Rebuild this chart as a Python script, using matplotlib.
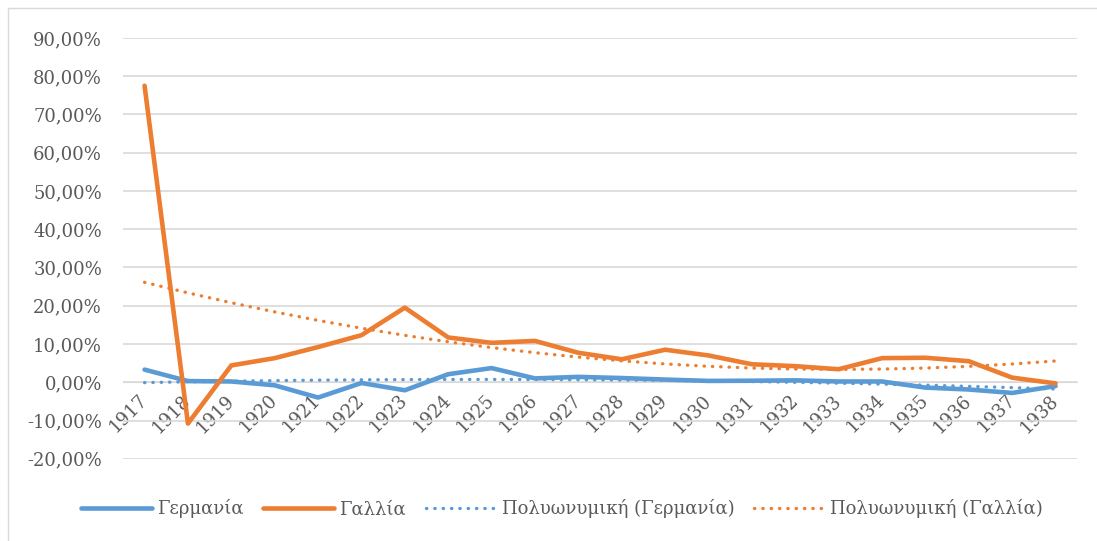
import numpy as np
import matplotlib
matplotlib.use('Agg')
import matplotlib.pyplot as plt
from matplotlib.ticker import FuncFormatter

years = list(range(1917, 1939))
germania = [3.3, 0.3, 0.2, -0.8, -4.0, -0.2, -2.1, 2.1, 3.7, 1.0, 1.4,
            1.1, 0.7, 0.35, 0.4, 0.5, 0.2, 0.2, -1.4, -1.9, -2.8, -1.0]
gallia = [77.5, -10.8, 4.4, 6.3, 9.2, 12.3, 19.5, 11.7, 10.3, 10.8, 7.7,
          6.0, 8.5, 7.0, 4.7, 4.2, 3.4, 6.3, 6.4, 5.5, 1.2, -0.3]

blue = '#5B9BD5'
orange = '#ED7D31'
grey = '#595959'

plt.rcParams['font.family'] = ['DejaVu Serif']

x = np.arange(len(years))
# πολυωνυμική γραμμή τάσης 2ου βαθμού (όπως στο Excel)
trend_g = np.polyval(np.polyfit(x, germania, 2), x)
trend_f = np.polyval(np.polyfit(x, gallia, 2), x)

fig = plt.figure(figsize=(10.97, 5.41), dpi=100)
ax = fig.add_axes([0.112, 0.152, 0.870, 0.778])

dots = (0, (0.1, 2.4))
ax.plot(x, germania, color=blue, lw=3.3, label='Γερμανία', solid_capstyle='round', zorder=4)
ax.plot(x, gallia, color=orange, lw=3.3, label='Γαλλία', solid_capstyle='round', zorder=4)
ax.plot(x, trend_g, color=blue, lw=2.4, ls=dots, dash_capstyle='round',
        label='Πολυωνυμική (Γερμανία)', zorder=3)
ax.plot(x, trend_f, color=orange, lw=2.4, ls=dots, dash_capstyle='round',
        label='Πολυωνυμική (Γαλλία)', zorder=3)

ax.set_xlim(-0.5, len(years) - 0.5)
ax.set_ylim(-20, 90)
ax.set_yticks(np.arange(-20, 91, 10))
ax.yaxis.set_major_formatter(FuncFormatter(lambda v, p: f'{v:.2f}%'.replace('.', ',')))
ax.grid(axis='y', color='#D9D9D9', lw=1.2)
ax.set_axisbelow(True)

ax.spines['bottom'].set_position(('data', 0))
ax.spines['bottom'].set_color('#D9D9D9')
for s in ['top', 'right', 'left']:
    ax.spines[s].set_visible(False)

ax.set_xticks(x)
ax.set_xticklabels([str(y) for y in years], rotation=45, ha='right',
                   rotation_mode='anchor', va='center')
ax.tick_params(axis='x', length=0, pad=11, labelsize=13, colors=grey)
ax.tick_params(axis='y', length=0, pad=15, labelsize=13, colors=grey)

ax.legend(loc='center', bbox_to_anchor=(0.46, -0.119), ncol=4, frameon=False,
          fontsize=13, labelcolor=grey, handlelength=3.9, handletextpad=0.3,
          columnspacing=1.1)

fig.patches.append(plt.Rectangle((8 / 1097, -0.1), 1.2, 1 - 8 / 541 + 0.1,
                                 transform=fig.transFigure, fill=False,
                                 edgecolor='#D9D9D9', lw=1))

fig.savefig('out.png', dpi=100)
